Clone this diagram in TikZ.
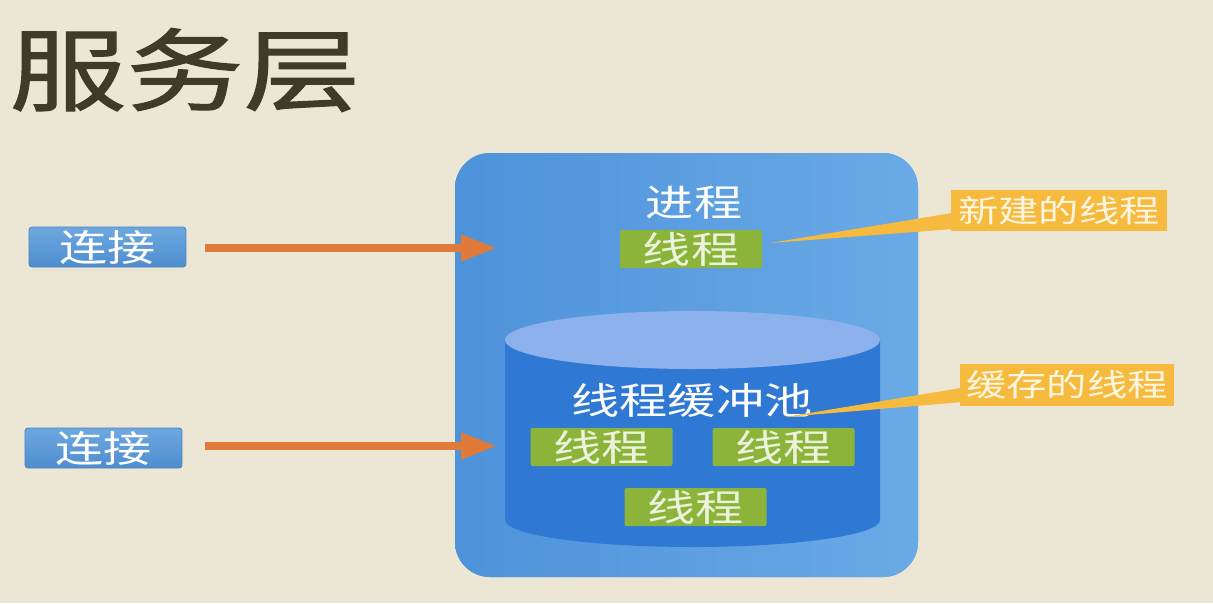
\documentclass[tikz,border=0pt]{standalone}
\usepackage{fontspec}
\setmainfont{Noto Sans CJK SC}
\newfontfamily\cjk[FakeStretch=1.3]{Noto Sans CJK SC}
\newfontfamily\cjkheavy[FakeStretch=1.3,FakeBold=1.2]{Noto Sans CJK SC}
\usetikzlibrary{arrows.meta,calc}

\definecolor{bgcream}{HTML}{ECE6D4}
\definecolor{titleink}{HTML}{3E3B2A}
\definecolor{procL}{HTML}{4E92DA}
\definecolor{procM}{HTML}{5C9EE0}
\definecolor{procR}{HTML}{6AAAE6}
\definecolor{cylbody}{HTML}{2F78D4}
\definecolor{cyltop}{HTML}{8DB1EC}
\definecolor{threadgreen}{HTML}{8CB43A}
\definecolor{threadtext}{HTML}{ECF3DC}
\definecolor{arroworange}{HTML}{E07A3A}
\definecolor{calloutyellow}{HTML}{F6BA3E}
\definecolor{callouttext}{HTML}{FFF6E2}
\definecolor{connTop}{HTML}{6DA8E0}
\definecolor{connBot}{HTML}{4E8DCF}
\definecolor{connEdge}{HTML}{4A82BE}

\tikzset{
  titletext/.style={inner sep=0, text=titleink, font=\cjkheavy\fontsize{90}{96}\selectfont},
  procbox/.style={rounded corners=35pt, preaction={fill=procM}, left color=procL, right color=procR,
    draw=none, minimum width=463pt, minimum height=424pt, inner sep=0},
  whitelabel/.style={inner sep=0, text=white, font=\cjk\fontsize{37}{40}\selectfont},
  thread/.style={fill=threadgreen, rounded corners=2pt, minimum width=142pt, minimum height=38pt,
    inner sep=0, text=threadtext, font=\cjk\fontsize{37}{40}\selectfont},
  conn/.style={top color=connTop, bottom color=connBot, draw=connEdge, line width=0.8pt,
    rounded corners=3pt, minimum width=157pt, minimum height=40pt, inner sep=0,
    text=white, font=\cjk\fontsize{37}{40}\selectfont},
  callout/.style={fill=calloutyellow, minimum height=41pt, inner sep=0,
    text=callouttext, font=\cjk\fontsize{31}{34}\selectfont},
  flow/.style={draw=arroworange, line width=8pt, -{Triangle[length=36pt,width=25pt]}},
}

\begin{document}
\begin{tikzpicture}[x=1pt,y=-1pt]
  \fill[bgcream] (0,0) rectangle (1213,603);
  \useasboundingbox (0,0) rectangle (1213,603);

  % heading
  \node[titletext] (title) at (185,70) {服务层};

  % process container
  \node[procbox] (proc) at (686.5,365) {};
  \node[whitelabel] (proclabel) at (694,203) {进程};
  \node[thread] (t0) at (691,249) {线程};

  % thread pool cylinder
  \fill[cylbody] (505,340) -- (505,520)
    arc[start angle=180,end angle=0,x radius=187.5,y radius=27] -- (880,340) -- cycle;
  \fill[cyltop] (692.5,340) ellipse[x radius=187.5,y radius=29];
  \node[whitelabel] (pool) at (692,400) {线程缓冲池};
  \node[thread] (t1) at (601.5,447) {线程};
  \node[thread] (t2) at (783.5,447) {线程};
  \node[thread] (t3) at (695.5,507) {线程};

  % incoming connections
  \node[conn] (conn1) at (107.5,247) {连接};
  \node[conn] (conn2) at (103.5,448) {连接};
  \coordinate (in1) at (497,248);
  \coordinate (in2) at (497,446);
  \draw[flow] (conn1.east) ++(19,1) -- (in1);
  \draw[flow] (conn2.east) ++(23,-2) -- (in2);

  % callouts
  \node[callout, minimum width=216pt] (c1) at (1059,210.5) {新建的线程};
  \node[callout, minimum width=214pt, minimum height=42pt] (c2) at (1067,385) {缓存的线程};
  \coordinate (tip1) at (770,243);
  \coordinate (tip2) at (785,417);
  \fill[calloutyellow] (tip1) -- ($(c1.south west)+(0,-18)$) -- ($(c1.south west)+(0,-2)$) -- cycle;
  \fill[calloutyellow] (tip2) -- ($(c2.south west)+(0,-18)$) -- ($(c2.south west)+(0,-4)$) -- cycle;
\end{tikzpicture}
\end{document}
